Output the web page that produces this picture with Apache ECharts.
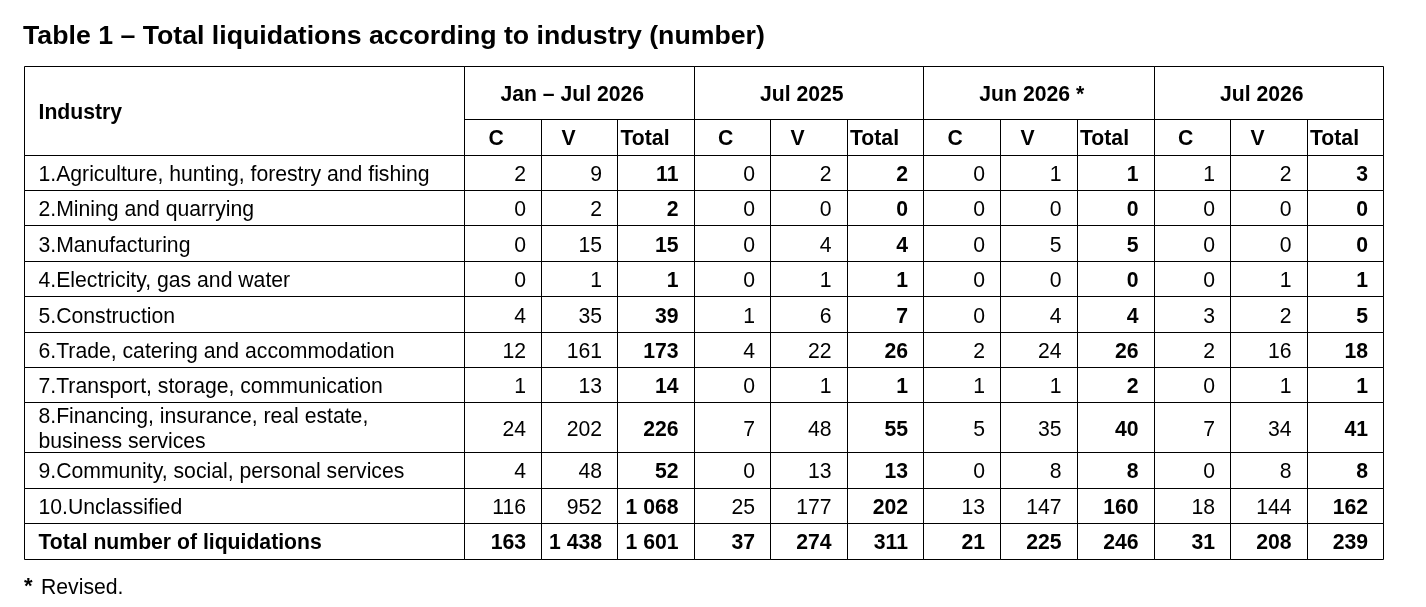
<!DOCTYPE html>
<html>
<head>
<meta charset="utf-8">
<script src="https://cdn.jsdelivr.net/npm/echarts@6/dist/echarts.min.js"></script>
<style>
html,body{margin:0;padding:0;background:#fff;}
#chart{width:1426px;height:607px;}
</style>
</head>
<body>
<div id="chart"></div>
<script>
// ---------------- DATA ----------------
const titleText = 'Table 1 – Total liquidations according to industry (number)';
const footnote = 'Revised.';
const periods = ['Jan – Jul 2026', 'Jul 2025', 'Jun 2026 *', 'Jul 2026'];
const subCols = ['C', 'V', 'Total'];
const industries = [
  '1.Agriculture, hunting, forestry and fishing',
  '2.Mining and quarrying',
  '3.Manufacturing',
  '4.Electricity, gas and water',
  '5.Construction',
  '6.Trade, catering and accommodation',
  '7.Transport, storage, communication',
  '8.Financing, insurance, real estate,\nbusiness services',
  '9.Community, social, personal services',
  '10.Unclassified'
];
const totalLabel = 'Total number of liquidations';

const janJulC = [2, 0, 0, 0, 4, 12, 1, 24, 4, 116];
const janJulV = [9, 2, 15, 1, 35, 161, 13, 202, 48, 952];
const janJulT = [11, 2, 15, 1, 39, 173, 14, 226, 52, 1068];

const jul25C = [0, 0, 0, 0, 1, 4, 0, 7, 0, 25];
const jul25V = [2, 0, 4, 1, 6, 22, 1, 48, 13, 177];
const jul25T = [2, 0, 4, 1, 7, 26, 1, 55, 13, 202];

const jun26C = [0, 0, 0, 0, 0, 2, 1, 5, 0, 13];
const jun26V = [1, 0, 5, 0, 4, 24, 1, 35, 8, 147];
const jun26T = [1, 0, 5, 0, 4, 26, 2, 40, 8, 160];

const jul26C = [1, 0, 0, 0, 3, 2, 0, 7, 0, 18];
const jul26V = [2, 0, 0, 1, 2, 16, 1, 34, 8, 144];
const jul26T = [3, 0, 0, 1, 5, 18, 1, 41, 8, 162];

const totalsRow = [163, 1438, 1601, 37, 274, 311, 21, 225, 246, 31, 208, 239];

// ---------------- LAYOUT (table geometry in px units of the hidden axes) ----------------
const COL_EDGES = [0, 440.5, 517.5, 593.5, 670, 746.5, 823, 899.5, 976.5, 1053, 1130, 1206.5, 1283, 1359.5];
const ROW_EDGES = [0, 53.3, 89.3, 124.7, 159.7, 195.3, 230.7, 266.7, 301.7, 336.5, 386.3, 422.3, 457.3, 493];
const FONT = "'Liberation Sans', Arial, Helvetica, sans-serif";
const FS = 21.2;

function fmt(n) {
  return String(n).replace(/\B(?=(\d{3})+(?!\d))/g, ' ');
}

const columns = [janJulC, janJulV, janJulT, jul25C, jul25V, jul25T, jun26C, jun26V, jun26T, jul26C, jul26V, jul26T];

// ---------------- CELLS ----------------
const cells = [];
cells.push({ value: [0, 1, 0, 2], text: 'Industry', kind: 'label', bold: true });
periods.forEach((p, gi) => {
  cells.push({ value: [1 + 3 * gi, 4 + 3 * gi, 0, 1], text: p, kind: 'group', bold: true });
  subCols.forEach((s, si) => {
    cells.push({ value: [1 + 3 * gi + si, 2 + 3 * gi + si, 1, 2], text: s, kind: 'sub', sub: si, bold: true });
  });
});
industries.forEach((name, ri) => {
  cells.push({ value: [0, 1, 2 + ri, 3 + ri], text: name, kind: 'label', bold: false });
  columns.forEach((col, ci) => {
    cells.push({ value: [1 + ci, 2 + ci, 2 + ri, 3 + ri], text: fmt(col[ri]), kind: 'num', bold: ci % 3 === 2 });
  });
});
cells.push({ value: [0, 1, 12, 13], text: totalLabel, kind: 'label', bold: true });
totalsRow.forEach((v, ci) => {
  cells.push({ value: [1 + ci, 2 + ci, 12, 13], text: fmt(v), kind: 'num', bold: true });
});

const crisp = v => Math.floor(v) + 0.5;
const SUB_PAD = [24, 20, 3];

function renderCell(params, api) {
  const c = cells[params.dataIndex];
  const c0 = api.value(0), c1 = api.value(1), r0 = api.value(2), r1 = api.value(3);
  const p0 = api.coord([COL_EDGES[c0], ROW_EDGES[r0]]);
  const p1 = api.coord([COL_EDGES[c1], ROW_EDGES[r1]]);
  const x0 = crisp(p0[0]), y0 = crisp(p0[1]), x1 = crisp(p1[0]), y1 = crisp(p1[1]);
  const cy = (p0[1] + p1[1]) / 2 + 2.3;
  let tx, align;
  if (c.kind === 'label') { tx = p0[0] + 14.5; align = 'left'; }
  else if (c.kind === 'group') { tx = (p0[0] + p1[0]) / 2 - 7; align = 'center'; }
  else if (c.kind === 'sub') { tx = p0[0] + SUB_PAD[c.sub]; align = 'left'; }
  else { tx = p1[0] - 15.5; align = 'right'; }
  return {
    type: 'group',
    children: [
      {
        type: 'rect',
        shape: { x: x0, y: y0, width: x1 - x0, height: y1 - y0 },
        style: { fill: null, stroke: '#000', lineWidth: 1 }
      },
      {
        type: 'text',
        style: {
          text: c.text, x: tx, y: cy, align: align, verticalAlign: 'middle',
          fontFamily: FONT, fontSize: FS, fontWeight: c.bold ? 'bold' : 'normal',
          lineHeight: 25, fill: '#000'
        }
      }
    ]
  };
}

const chart = echarts.init(document.getElementById('chart'), null, { renderer: 'canvas' });
chart.setOption({
  animation: false,
  backgroundColor: '#fff',
  title: [
    {
      text: titleText, left: 23, top: 23, padding: 0,
      textStyle: { fontFamily: FONT, fontSize: 26.7, fontWeight: 'bold', color: '#000' }
    },
    {
      text: '{a|*}' + footnote, left: 24, top: 576, padding: 0,
      textStyle: {
        fontFamily: FONT, fontSize: 21.2, fontWeight: 'normal', color: '#000',
        rich: { a: { fontFamily: FONT, fontSize: 22, fontWeight: 'bold', color: '#000', width: 17, padding: [0, 0, 3, 0] } }
      }
    }
  ],
  grid: { left: 24, top: 66, width: 1359.5, height: 493, containLabel: false },
  xAxis: { type: 'value', min: 0, max: 1359.5, show: false },
  yAxis: { type: 'value', min: 0, max: 493, inverse: true, show: false },
  series: [{
    type: 'custom',
    coordinateSystem: 'cartesian2d',
    silent: true,
    renderItem: renderCell,
    encode: { x: [0, 1], y: [2, 3] },
    data: cells.map(c => ({ value: c.value }))
  }]
});
</script>
</body>
</html>
